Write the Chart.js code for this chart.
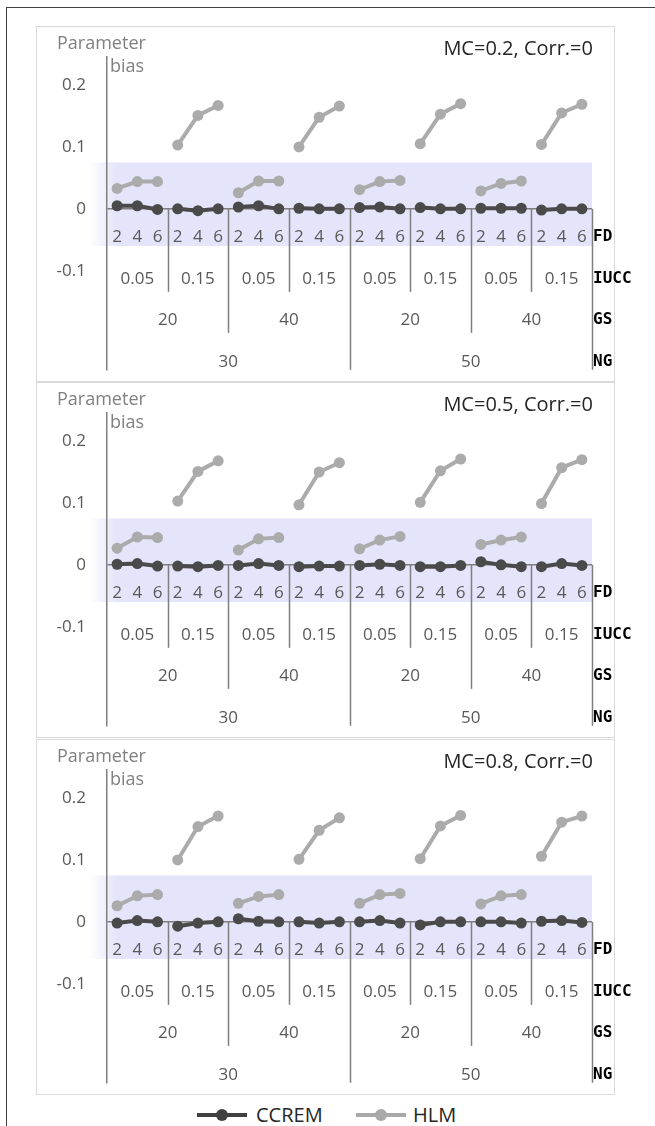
<!DOCTYPE html>
<html>
<head>
<meta charset="utf-8">
<script src="https://cdn.jsdelivr.net/npm/chart.js@4.4.1/dist/chart.umd.min.js"></script>
<style>
  body { margin: 0; background: #fff; font-family: "Open Sans", sans-serif; }
  #page { position: relative; width: 655px; height: 1126px; overflow: hidden; }
  .frame-top { position: absolute; left: 6px; top: 7px; width: 660px; border-top: 1.5px solid #404040; }
  .frame-left { position: absolute; left: 6px; top: 7px; height: 1130px; border-left: 1.5px solid #404040; }
  .panel { position: absolute; left: 36px; width: 577px; height: 354px; border: 1.5px solid #d9d9d9; }
  canvas.c { position: absolute; left: 0; }
  .ptitle { position: absolute; right: 62px; font-size: 20px; line-height: 24px; color: #262626; white-space: nowrap; }
  .ylab { position: absolute; font-size: 18px; line-height: 22px; color: #808080; white-space: nowrap; }
  .legend { position: absolute; top: 1102px; left: 0; width: 655px; height: 26px; }
  .legend .item { position: absolute; top: 0; height: 26px; }
  .legend .line { position: absolute; top: 11px; height: 4px; width: 50px; left: 0; }
  .legend .dot { position: absolute; top: 7px; left: 19px; width: 12px; height: 12px; border-radius: 50%; }
  .legend .txt { position: absolute; left: 59px; top: 0; font-size: 20px; line-height: 26px; color: #262626; white-space: nowrap; }
</style>
</head>
<body>
<div id="page">
  <div class="frame-top"></div>
  <div class="frame-left"></div>
  <div class="legend">
    <div class="item" style="left:197px">
      <div class="line" style="background:#404040"></div>
      <div class="dot" style="background:#404040"></div>
      <div class="txt">CCREM</div>
    </div>
    <div class="item" style="left:356px">
      <div class="line" style="background:#a9a9a9"></div>
      <div class="dot" style="background:#a9a9a9"></div>
      <div class="txt" style="left:57px">HLM</div>
    </div>
  </div>
</div>

<script>
// ---- category levels (innermost first) ----
const fdLevels = ['2', '4', '6'];
const iuccLevels = ['0.05', '0.15'];
const gsLevels = ['20', '40'];
const ngLevels = ['30', '50'];
const rowNames = ['FD', 'IUCC', 'GS', 'NG'];

const panelTitles = ['MC=0.2, Corr.=0', 'MC=0.5, Corr.=0', 'MC=0.8, Corr.=0'];
const yTicks = [-0.1, 0, 0.1, 0.2];
const shadeRange = [-0.06, 0.075];

// ---- parameter bias ----
const ccremMC02 = [0.005, 0.005, -0.001, 0, -0.003, 0, 0.003, 0.005, 0, 0.001, 0, 0,
                   0.002, 0.003, 0, 0.002, 0, 0, 0.001, 0.001, 0.001, -0.002, 0, 0];
const hlmMC02 = [0.033, 0.044, 0.044, 0.103, 0.151, 0.167, 0.026, 0.045, 0.045, 0.100, 0.148, 0.166,
                 0.031, 0.044, 0.046, 0.105, 0.153, 0.170, 0.029, 0.041, 0.045, 0.104, 0.155, 0.169];

const ccremMC05 = [0.001, 0.002, -0.002, -0.002, -0.003, -0.001, -0.001, 0.002, -0.001, -0.003, -0.002, -0.002,
                   -0.001, 0.001, -0.001, -0.003, -0.003, -0.001, 0.005, 0, -0.003, -0.003, 0.002, -0.001];
const hlmMC05 = [0.027, 0.045, 0.044, 0.103, 0.151, 0.168, 0.024, 0.042, 0.044, 0.097, 0.150, 0.165,
                 0.026, 0.040, 0.046, 0.101, 0.152, 0.171, 0.033, 0.040, 0.045, 0.099, 0.157, 0.170];

const ccremMC08 = [-0.002, 0.002, 0, -0.007, -0.002, 0, 0.005, 0.001, 0, 0, -0.002, 0,
                   0, 0.002, -0.002, -0.005, 0, 0, 0, 0, -0.002, 0.001, 0.002, -0.001];
const hlmMC08 = [0.026, 0.042, 0.044, 0.100, 0.154, 0.171, 0.030, 0.041, 0.044, 0.101, 0.148, 0.168,
                 0.030, 0.044, 0.046, 0.102, 0.155, 0.172, 0.029, 0.042, 0.044, 0.106, 0.161, 0.171];

const panelSeries = [[ccremMC02, hlmMC02], [ccremMC05, hlmMC05], [ccremMC08, hlmMC08]];

// build the 24 nested category labels: NG > GS > IUCC > FD
const categories = [];
ngLevels.forEach(ng => gsLevels.forEach(gs => iuccLevels.forEach(iu => fdLevels.forEach(fd => {
    categories.push([ng, gs, iu, fd]);
}))));

const AXIS_GRAY = '#7f7f7f';
const LABEL_GRAY = '#595959';

// ------------------- SHADED BAND + MULTI-LEVEL AXIS -------------------
const groupAxisPlugin = {
    id: 'groupAxis',
    beforeDraw(chart) {
        const { ctx, chartArea, scales: { y } } = chart;
        const top = y.getPixelForValue(shadeRange[1]);
        const bot = y.getPixelForValue(shadeRange[0]);
        const x0 = chartArea.left - 18;
        const g = ctx.createLinearGradient(x0, 0, chartArea.left + 10, 0);
        g.addColorStop(0, 'rgba(228,228,250,0)');
        g.addColorStop(1, 'rgba(228,228,250,1)');
        ctx.save();
        ctx.fillStyle = g;
        ctx.fillRect(x0, top, chartArea.right - x0, bot - top);
        ctx.restore();
    },
    beforeDatasetsDraw(chart) {
        const { ctx, chartArea, scales: { x, y } } = chart;
        const zp = y.getPixelForValue(0);
        const n = categories.length;
        const w = (chartArea.right - chartArea.left) / n;

        ctx.save();
        // separators
        ctx.strokeStyle = AXIS_GRAY;
        ctx.lineWidth = 1.5;
        for (let k = 1; k <= n; k++) {
            let bottom = null;
            if (k % 12 === 0) bottom = chartArea.bottom;
            else if (k % 6 === 0) bottom = zp + 124;
            else if (k % 3 === 0) bottom = zp + 83;
            if (bottom === null) continue;
            const px = Math.round(chartArea.left + k * w) + 0.5;
            ctx.beginPath();
            ctx.moveTo(px, zp);
            ctx.lineTo(px, bottom);
            ctx.stroke();
        }

        // labels
        ctx.fillStyle = LABEL_GRAY;
        ctx.font = '17px "Open Sans"';
        ctx.textAlign = 'center';
        ctx.textBaseline = 'middle';
        const rows = [
            { level: 3, span: 1, dy: 28 },
            { level: 2, span: 3, dy: 70 },
            { level: 1, span: 6, dy: 111 },
            { level: 0, span: 12, dy: 153 }
        ];
        rows.forEach(r => {
            for (let i = 0; i < n; i += r.span) {
                const cx = (x.getPixelForValue(i) + x.getPixelForValue(i + r.span - 1)) / 2;
                ctx.fillText(categories[i][r.level], cx, zp + r.dy);
            }
        });

        // row names
        ctx.fillStyle = '#000';
        ctx.font = 'bold 16px "DejaVu Sans Mono"';
        ctx.textAlign = 'left';
        rows.forEach((r, i) => ctx.fillText(rowNames[i], chartArea.right + 1, zp + r.dy));
        ctx.restore();
    }
};

// ------------------- PANELS -------------------
const page = document.getElementById('page');
const panelTops = [26, 382, 739];

panelTops.forEach((top, p) => {
    const box = document.createElement('div');
    box.className = 'panel';
    box.style.top = top + 'px';
    page.appendChild(box);

    const canvas = document.createElement('canvas');
    canvas.className = 'c';
    canvas.width = 655;
    canvas.height = 375;
    canvas.style.top = top + 'px';
    page.appendChild(canvas);

    const title = document.createElement('div');
    title.className = 'ptitle';
    title.style.top = (top + 10) + 'px';
    title.textContent = panelTitles[p];
    page.appendChild(title);

    const yl1 = document.createElement('div');
    yl1.className = 'ylab';
    yl1.style.left = '57px';
    yl1.style.top = (top + 5) + 'px';
    yl1.textContent = 'Parameter';
    page.appendChild(yl1);

    const yl2 = document.createElement('div');
    yl2.className = 'ylab';
    yl2.style.left = '110px';
    yl2.style.top = (top + 28) + 'px';
    yl2.textContent = 'bias';
    page.appendChild(yl2);

    const [ccrem, hlm] = panelSeries[p];
    const mkSet = (label, data, color, width) => ({
        label: label,
        data: data,
        borderColor: color,
        backgroundColor: color,
        borderWidth: width,
        pointRadius: 5.5,
        pointBorderWidth: 0,
        pointBackgroundColor: color,
        segment: {
            borderColor: ctx => (ctx.p0DataIndex % 3 === 2 ? 'transparent' : color)
        }
    });

    new Chart(canvas.getContext('2d'), {
        type: 'line',
        data: {
            labels: categories.map(c => c.join('|')),
            datasets: [
                mkSet('CCREM', ccrem, '#4a4a4a', 4),
                mkSet('HLM', hlm, '#ababab', 4)
            ]
        },
        plugins: [groupAxisPlugin],
        options: {
            responsive: false,
            animation: false,
            devicePixelRatio: 1,
            layout: { padding: { top: 26, bottom: 26, left: 0, right: 63 } },
            plugins: {
                legend: { display: false },
                tooltip: { enabled: false }
            },
            scales: {
                x: { type: 'category', offset: true, display: false },
                y: {
                    min: -0.26,
                    max: 0.245,
                    afterFit: scale => { scale.width = 107; },
                    afterBuildTicks: scale => { scale.ticks = yTicks.map(v => ({ value: v })); },
                    ticks: {
                        padding: 21,
                        color: LABEL_GRAY,
                        font: { family: 'Open Sans', size: 17 },
                        callback: v => String(v)
                    },
                    grid: {
                        drawTicks: false,
                        lineWidth: 1.5,
                        color: ctx => (ctx.tick && ctx.tick.value === 0 ? AXIS_GRAY : 'transparent')
                    },
                    border: { display: true, color: AXIS_GRAY, width: 1.5 }
                }
            }
        }
    });
});
</script>
</body>
</html>
